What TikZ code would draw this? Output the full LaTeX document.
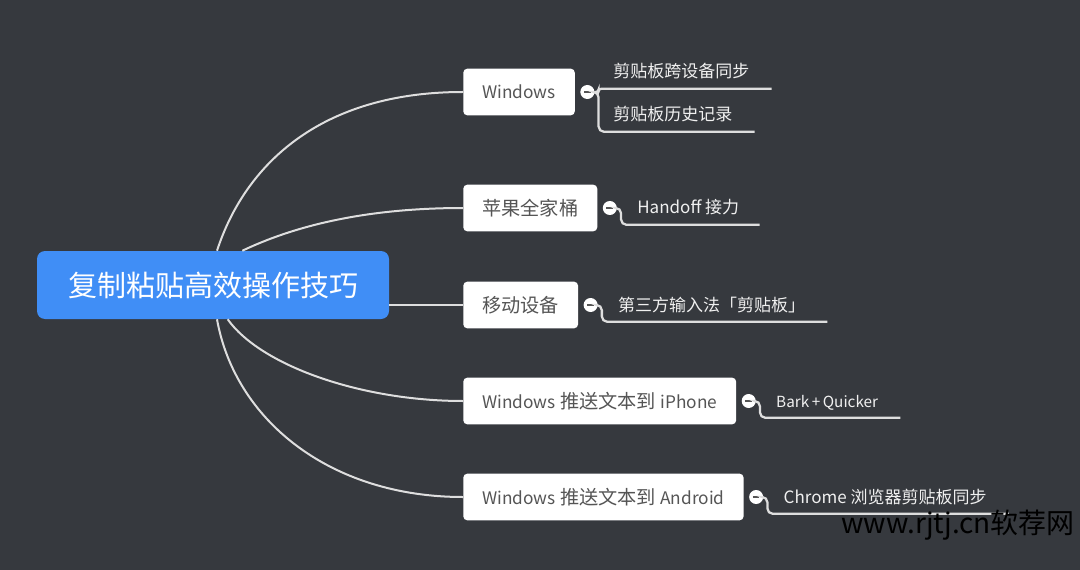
\documentclass[tikz,border=0pt]{standalone}
\usepackage{fontspec}
\setmainfont{Noto Sans CJK SC}
\newfontfamily\latinfont[Scale=0.9]{Noto Sans CJK SC}
\newcommand{\lat}[1]{{\latinfont #1}}
\usepackage{tikz}
\usetikzlibrary{positioning}
\definecolor{bggray}{RGB}{54,57,62}
\definecolor{rootblue}{RGB}{64,142,246}
\definecolor{linegray}{RGB}{222,222,222}
\definecolor{boxtext}{RGB}{85,85,85}

\begin{document}
\begin{tikzpicture}[
  x=0.75pt, y=-0.75pt,
  root/.style={rectangle, rounded corners=6pt, fill=rootblue, text=white, font=\fontsize{21.75}{25}\selectfont, minimum width=264pt, minimum height=51pt, inner sep=0pt},
  topic/.style={rectangle, rounded corners=3pt, fill=white, text=boxtext, font=\fontsize{14.4}{17}\selectfont, minimum height=35pt, inner xsep=14.25pt, anchor=west},
  leaf/.style={text=white!94!black, font=\fontsize{12.75}{15}\selectfont, text height=10.5pt, text depth=1.5pt, inner xsep=0pt, inner ysep=6.4pt, anchor=west},
  fold/.style={circle, fill=white, minimum size=10.5pt, inner sep=0pt, path picture={\draw[boxtext, line width=1.2pt] ([xshift=-2.5pt]path picture bounding box.center) -- ([xshift=2.5pt]path picture bounding box.center);}},
  branch/.style={draw=linegray, line width=1.5pt},
  twig/.style={draw=linegray, line width=1.7pt, rounded corners=4pt}
]

% Background
\fill[bggray] (0,0) rectangle (1080,570);
\useasboundingbox (0,0) rectangle (1080,570);

% Root
\node[root] (R) at (213,285) {复制粘贴高效操作技巧};

% Topics
\node[topic] (T1) at (463,92) {\lat{Windows}};
\node[topic] (T2) at (463,208) {苹果全家桶};
\node[topic] (T3) at (463,305) {移动设备};
\node[topic] (T4) at (463,401) {\lat{Windows} 推送文本到 \lat{iPhone}};
\node[topic] (T5) at (463,497) {\lat{Windows} 推送文本到 \lat{Android}};

% Branches
\draw[branch] ([xshift=3pt]R.north) .. controls (245,165) and (320,92) .. (T1.west);
\draw[branch] ([xshift=22pt]R.north) .. controls (290,228) and (360,208) .. (T2.west);
\draw[branch] (R.east |- T3.west) -- (T3.west);
\draw[branch] ([xshift=11pt]R.south) .. controls (260,365) and (360,401) .. (T4.west);
\draw[branch] ([xshift=3pt]R.south) .. controls (235,420) and (330,497) .. (T5.west);

% Fold buttons
\node[fold, right=3.75pt of T1] (F1) {};
\node[fold, right=3.75pt of T2] (F2) {};
\node[fold, right=3.75pt of T3] (F3) {};
\node[fold, right=3.75pt of T4] (F4) {};
\node[fold, right=3.75pt of T5] (F5) {};

% Leaves
\node[leaf] (L1a) at (613,72) {剪贴板跨设备同步};
\node[leaf] (L1b) at (613,115) {剪贴板历史记录};
\node[leaf, right=15pt of F2] (L2) {Handoff 接力};
\node[leaf, right=15pt of F3] (L3) {第三方输入法「剪贴板」};
\node[leaf, right=15pt of F4] (L4) {\lat{Bark\,+\,Quicker}};
\node[leaf, right=15pt of F5] (L5) {Chrome 浏览器剪贴板同步};

% Twigs
\draw[twig, rounded corners=2pt] (F1.east) -- ++(3pt,0) |- ([xshift=16.5pt]L1a.south east);
\draw[twig] (F1.east) -- ++(3pt,0) |- ([xshift=16.5pt]L1b.south east);
\draw[twig] (F2.east) -- ++(3pt,0) |- ([xshift=15pt]L2.south east);
\draw[twig] (F3.east) -- ++(3pt,0) |- ([xshift=16.5pt]L3.south east);
\draw[twig] (F4.east) -- ++(3pt,0) |- ([xshift=16.5pt]L4.south east);
\draw[twig] (F5.east) -- ++(3pt,0) |- ([xshift=16.5pt]L5.south east);

% Watermark
\node[font=\fontsize{21}{24}\selectfont, text=black] (WM) at (958,525) {www.rjtj.cn软荐网};

\end{tikzpicture}
\end{document}
